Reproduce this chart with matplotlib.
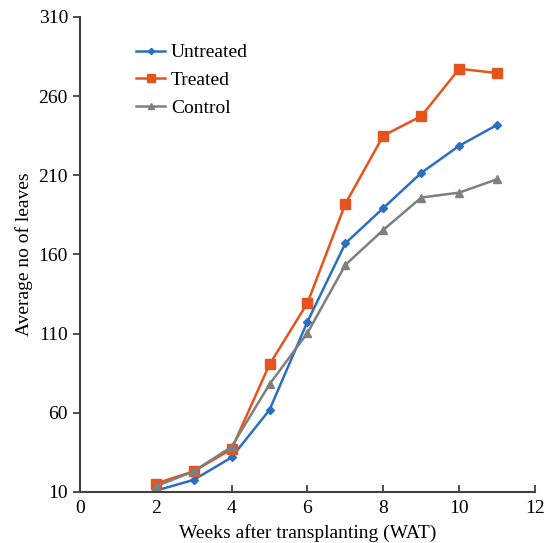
import numpy as np
import matplotlib.pyplot as plt

# weeks after transplanting
weeks = [2, 3, 4, 5, 6, 7, 8, 9, 10, 11]

# average number of leaves per treatment
untreated = [10.8, 17.6, 31.8, 61.8, 117.5, 167, 189.3, 211.5, 228.6, 241.8]
treated = [15.3, 23.0, 37.0, 90.5, 129.3, 192, 235, 247.3, 277.2, 274.5]
control = [13.5, 23.0, 38.5, 78.0, 110.4, 153.4, 175.5, 195.9, 199, 207.5]

xticks = [0, 2, 4, 6, 8, 10, 12]
yticks = [10, 60, 110, 160, 210, 260, 310]

plt.rcParams['font.family'] = ['Liberation Serif', 'DejaVu Serif']

fig = plt.figure(figsize=(5.5, 5.43), dpi=100)
ax = fig.add_axes([0.145, 0.094, 0.828, 0.875])

ax.plot(weeks, untreated, color='#2b6fc0', marker='D', markersize=4, lw=1.8, label='Untreated')
ax.plot(weeks, treated, color='#e5541c', marker='s', markersize=6.5, lw=1.8, label='Treated')
ax.plot(weeks, control, color='#7f7f7f', marker='^', markersize=6, lw=1.8, label='Control')

ax.set_xlim(0, 12)
ax.set_ylim(10, 310)
ax.set_xticks(xticks)
ax.set_yticks(yticks)

for side in ['top', 'right']:
    ax.spines[side].set_visible(False)
for side in ['left', 'bottom']:
    ax.spines[side].set_color('#404040')
    ax.spines[side].set_linewidth(1.5)

ax.tick_params(axis='x', direction='in', length=5, width=1.3, color='#404040', labelsize=14, pad=6)
ax.tick_params(axis='y', direction='out', length=5, width=1.3, color='#404040', labelsize=14)

ax.set_xlabel('Weeks after transplanting (WAT)', fontsize=14, labelpad=5)
ax.set_ylabel('Average no of leaves', fontsize=14, labelpad=4)

ax.legend(loc='upper left', bbox_to_anchor=(0.085, 0.98), frameon=False, fontsize=14,
          handlelength=1.5, handletextpad=0.3, labelspacing=0.52, markerscale=0.8)

fig.savefig('out.png', dpi=100)
